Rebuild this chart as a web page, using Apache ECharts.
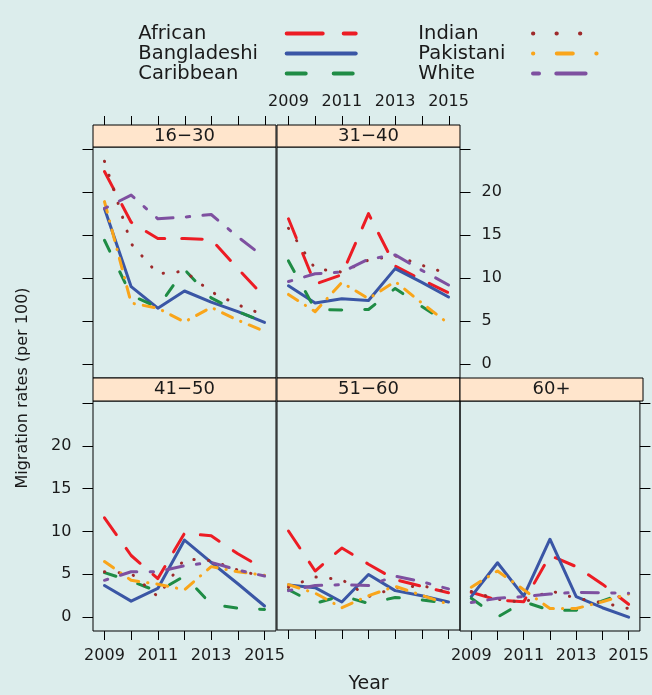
<!DOCTYPE html>
<html>
<head>
<meta charset="utf-8">
<script src="https://cdn.jsdelivr.net/npm/echarts@6/dist/echarts.min.js"></script>
<style>
  html, body { margin: 0; padding: 0; background: #dcedec; }
  #chart { width: 652px; height: 695px; }
</style>
</head>
<body>
<div id="chart"></div>
<script>
const years = [2009, 2010, 2011, 2012, 2013, 2014, 2015];
const ageGroups = ["16−30", "31−40", "41−50", "51−60", "60+"];
const xTicks = [2009, 2010, 2011, 2012, 2013, 2014, 2015];
const xTickLabels = [2009, 2011, 2013, 2015];
const yTicks = [0, 5, 10, 15, 20, 25];
const yTickLabels = [0, 5, 10, 15, 20];

// one row per age group, same order as ageGroups
const african = [
  [22.4, 16.5, 14.6, 14.6, 14.5, 11.1, 7.8],
  [16.9, 9.3, 10.4, 17.5, 11.4, 9.8, 8.3],
  [11.6, 7.2, 4.5, 9.8, 9.5, 7.4, 5.6],
  [10.0, 5.3, 8.0, 6.1, 4.3, 3.5, 2.75],
  [2.9, 2.0, 1.8, 7.2, 5.9, 3.85, 1.5],
];
const bangladeshi = [
  [18.1, 9.0, 6.5, 8.5, 7.2, 6.1, 4.85],
  [9.1, 7.1, 7.6, 7.4, 11.1, 9.5, 7.8],
  [3.7, 1.87, 3.35, 9.0, 6.4, 3.9, 1.3],
  [3.66, 3.35, 1.67, 4.9, 3.0, 2.4, 1.67],
  [2.4, 6.35, 2.45, 9.1, 2.4, 1.1, 0.0],
];
const caribbean = [
  [14.4, 8.0, 6.6, 11.0, 7.7, 6.1, 4.9],
  [12.0, 6.35, 6.3, 6.35, 8.8, 6.7, 4.7],
  [5.2, 4.2, 3.0, 4.8, 1.5, 1.05, 0.9],
  [3.1, 1.5, 2.4, 1.5, 2.2, 1.9, 1.5],
  [2.2, 0.0, 1.8, 0.8, 0.8, 1.9, 3.0],
];
const indian = [
  [23.6, 14.0, 10.5, 10.8, 8.4, 6.9, 5.7],
  [15.8, 11.1, 10.7, 12.1, 12.6, 11.5, 10.5],
  [5.3, 5.1, 2.4, 6.8, 6.6, 5.5, 4.7],
  [3.4, 4.6, 4.3, 2.3, 3.3, 3.6, 2.8],
  [3.0, 2.1, 1.7, 3.1, 2.2, 1.7, 1.0],
];
const pakistani = [
  [18.9, 7.1, 6.5, 4.9, 6.6, 5.1, 3.8],
  [8.1, 6.1, 9.5, 7.6, 9.6, 7.1, 4.7],
  [6.5, 4.3, 3.85, 3.2, 5.9, 5.3, 4.9],
  [3.7, 2.7, 1.0, 2.4, 3.5, 2.45, 1.4],
  [3.5, 5.4, 3.2, 1.0, 1.0, 1.8, 2.7],
];
const white = [
  [18.1, 19.65, 16.9, 17.1, 17.4, 14.8, 12.4],
  [9.6, 10.5, 10.7, 12.2, 12.7, 10.9, 9.2],
  [4.3, 5.3, 5.3, 6.0, 6.4, 5.5, 4.8],
  [3.0, 3.6, 3.7, 3.6, 4.7, 4.05, 3.2],
  [1.7, 2.2, 2.4, 2.7, 2.9, 2.85, 2.8],
];

const FONT = '"DejaVu Sans", sans-serif';
const TEXT = "#1a1a1a";
const X_MIN = 2008.57;
const X_MAX = 2015.43;

const groups = [
  { name: "African", values: african, color: "#ec1c24", dash: [20.5, 17], legendDash: [36, 21] },
  { name: "Bangladeshi", values: bangladeshi, color: "#3a56a5", dash: "solid", legendDash: "solid" },
  { name: "Caribbean", values: caribbean, color: "#1f8c45", dash: [12, 23], legendDash: [19, 28] },
  { name: "Indian", values: indian, color: "#9e2a2b", dash: [0.3, 14.4], legendDash: [0.3, 23.2] },
  { name: "Pakistani", values: pakistani, color: "#f9a51a", dash: [11, 9, 0.3, 9], legendDash: [0.3, 23.5, 16, 23.5] },
  { name: "White", values: white, color: "#7e50a0", dash: [3.4, 13.3, 17, 13.3], legendDash: [6, 17.3, 29.3, 17.3] },
];

// panel boxes (plot area) and strip tops
const panelW = 183;
const panels = [
  { left: 93, top: 147, height: 231, stripTop: 125 },
  { left: 277, top: 147, height: 231, stripTop: 125 },
  { left: 93, top: 401, height: 230, stripTop: 378 },
  { left: 277, top: 401, height: 230, stripTop: 378 },
  { left: 460, top: 401, height: 230, stripTop: 378 },
];
const xSide = ["top", "top", "bottom", "bottom", "bottom"];
const xLabelsOn = [false, true, true, false, true];
const ySide = ["left", "right", "left", null, "right"];
const yLabelsOn = [false, true, true, false, false];
const TICK = 9;

const chart = echarts.init(document.getElementById("chart"));

const grid = panels.map((p) => ({
  left: p.left,
  top: p.top,
  width: panelW,
  height: p.height,
  show: true,
  backgroundColor: "transparent",
  borderColor: "#000",
  borderWidth: 1,
}));

function xAxisFor(gridIndex, withLabels, showAxis) {
  return {
    gridIndex: gridIndex,
    type: "value",
    min: X_MIN,
    max: X_MAX,
    show: showAxis,
    position: "bottom",
    axisLine: { show: false, onZero: false },
    axisTick: { show: true, inside: false, length: TICK, customValues: xTicks, lineStyle: { color: "#000", width: 1 } },
    axisLabel: {
      show: withLabels,
      customValues: xTickLabels,
      formatter: (v) => String(v),
      margin: 17,
      fontFamily: FONT,
      fontSize: 16,
      color: TEXT,
    },
    splitLine: { show: false },
  };
}

// panel x axes; the top row ones stay hidden
const xAxis = panels.map((p, i) => {
  const ax = xAxisFor(i, xLabelsOn[i], xSide[i] === "bottom");
  if (i === 3) {
    ax.name = "Year";
    ax.nameLocation = "middle";
    ax.nameGap = 45;
    ax.nameTextStyle = { fontFamily: FONT, fontSize: 19, color: TEXT };
  }
  return ax;
});

const yAxis = panels.map((p, i) => ({
  gridIndex: i,
  type: "value",
  min: -1.62,
  max: 25.25,
  show: ySide[i] !== null,
  position: ySide[i] || "left",
  axisLine: { show: false, onZero: false },
  axisTick: { show: true, inside: false, length: 10.5, customValues: yTicks, lineStyle: { color: "#000", width: 1 } },
  axisLabel: {
    show: yLabelsOn[i],
    customValues: yTickLabels,
    formatter: (v) => String(v),
    margin: 21.6,
    fontFamily: FONT,
    fontSize: 16,
    color: TEXT,
  },
  splitLine: { show: false },
}));

// thin grid right above each top-row strip, carrying the top labels (inside, above the strip)
[0, 1].forEach((i) => {
  const p = panels[i];
  grid.push({ left: p.left, top: p.stripTop - TICK, width: panelW, height: TICK, show: false });
  const gi = grid.length - 1;
  const ax = xAxisFor(gi, xLabelsOn[i], true);
  ax.axisTick = { show: false };
  ax.axisLabel.inside = true;
  ax.axisLabel.margin = 15;
  xAxis.push(ax);
  yAxis.push({ gridIndex: gi, type: "value", min: 0, max: 1, show: false });
});

const series = [];
panels.forEach((p, i) => {
  groups.forEach((g) => {
    series.push({
      name: g.name,
      type: "line",
      xAxisIndex: i,
      yAxisIndex: i,
      data: years.map((yr, k) => [yr, g.values[i][k]]),
      symbol: "none",
      showSymbol: false,
      silent: true,
      animation: false,
      lineStyle: { color: g.color, width: 3, type: g.dash, cap: "round", join: "round" },
      itemStyle: { color: g.color },
    });
  });
});

function makeLegend(names, left, textWidth) {
  return {
    data: names.map((n) => {
      const g = groups.find((x) => x.name === n);
      return { name: n, lineStyle: { type: g.legendDash } };
    }),
    orient: "vertical",
    align: "right",
    left: left,
    top: 23.6,
    padding: 0,
    itemGap: 0,
    itemWidth: 69,
    itemHeight: 6,
    selectedMode: false,
    itemStyle: { opacity: 0 },
    lineStyle: { width: 4, cap: "round" },
    formatter: (name) => "{t|" + name + "}",
    textStyle: {
      fontFamily: FONT,
      fontSize: 19.5,
      color: TEXT,
      rich: {
        t: { width: textWidth, align: "left", fontFamily: FONT, fontSize: 19.5, color: TEXT, lineHeight: 17.8 },
      },
    },
  };
}

const options = {
  backgroundColor: "#dcedec",
  animation: false,
  grid: grid,
  xAxis: xAxis,
  yAxis: yAxis,
  legend: [
    makeLegend(["African", "Bangladeshi", "Caribbean"], 138.3, 143.4),
    makeLegend(["Indian", "Pakistani", "White"], 418.3, 109.7),
  ],
  series: series,
};
chart.setOption(options);

// strips, y title and the top-row ticks (placed through the panel x axes)
const stripRects = panels.map((p) => ({
  type: "rect",
  shape: { x: p.left, y: p.stripTop, width: panelW, height: p.top - p.stripTop },
  style: { fill: "#ffe5cc", stroke: "#000", lineWidth: 1 },
  z: 5,
}));
const stripTexts = panels.map((p, i) => ({
  type: "text",
  x: p.left + panelW / 2,
  y: (p.stripTop + p.top) / 2,
  style: { text: ageGroups[i], align: "center", verticalAlign: "middle", font: "18px " + FONT, fill: TEXT },
  z: 6,
}));
const topTicks = [];
[0, 1].forEach((i) => {
  const p = panels[i];
  xTicks.forEach((v) => {
    const px = Math.round(chart.convertToPixel({ xAxisIndex: i }, v)) + 0.5;
    topTicks.push({
      type: "line",
      shape: { x1: px, y1: p.stripTop - TICK, x2: px, y2: p.stripTop },
      style: { stroke: "#000", lineWidth: 1 },
      z: 6,
    });
  });
});

chart.setOption({
  graphic: {
    elements: stripRects.concat(stripTexts).concat(topTicks).concat([
      {
        type: "text",
        x: 22.7,
        y: 388,
        rotation: Math.PI / 2,
        style: { text: "Migration rates (per 100)", align: "center", verticalAlign: "middle", font: "16px " + FONT, fill: TEXT },
      },
    ]),
  },
});
</script>
</body>
</html>
